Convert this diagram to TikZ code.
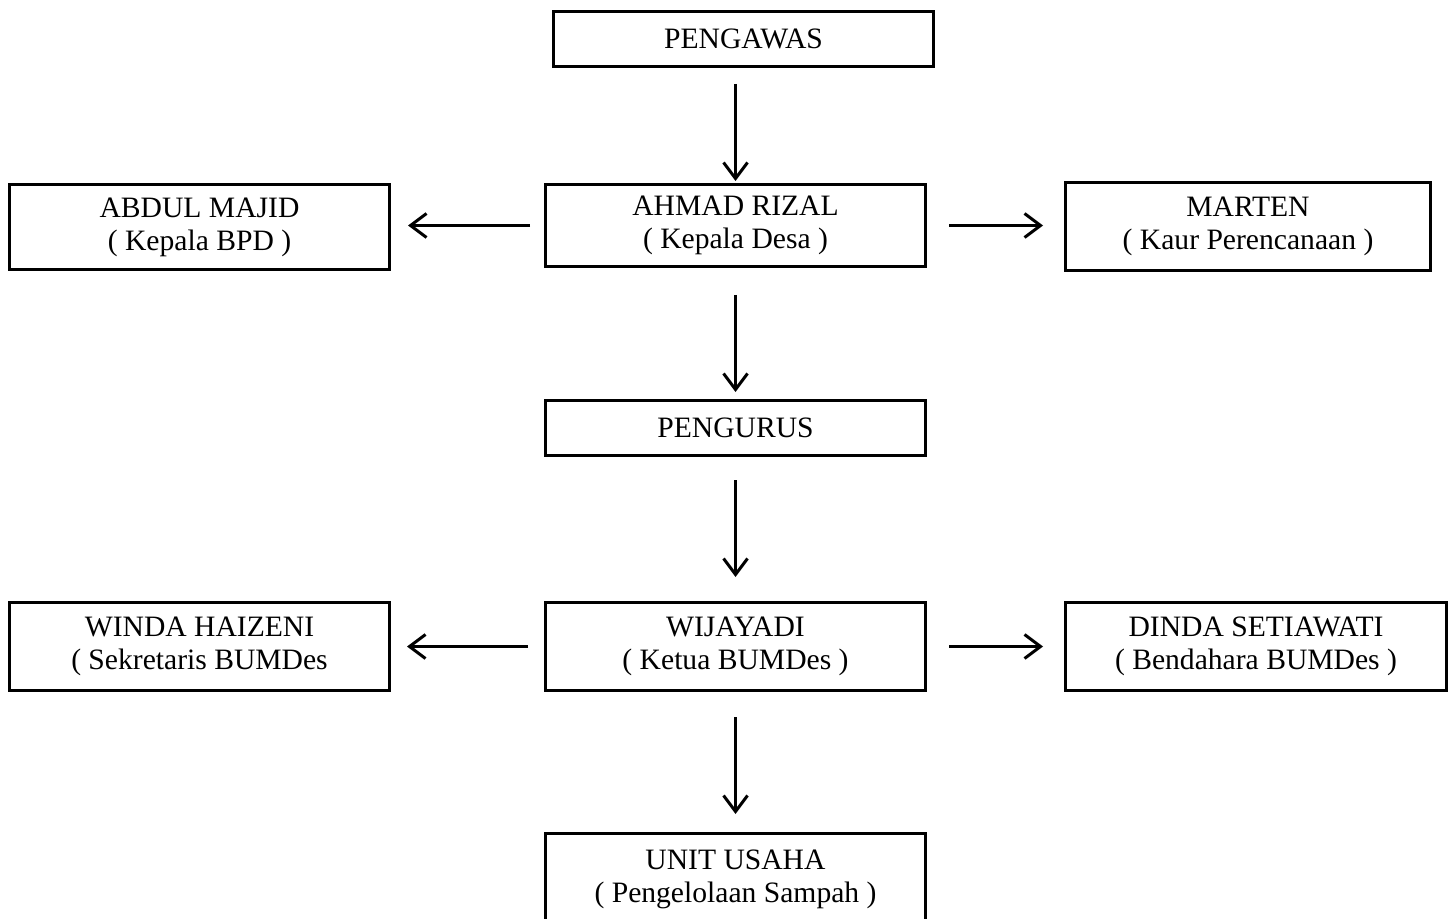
\documentclass[tikz,border=0pt]{standalone}
\usepackage{fontspec}
\setmainfont{Liberation Serif}
\usetikzlibrary{arrows.meta}
\begin{document}
\begin{tikzpicture}[x=0.5pt,y=-0.5pt,
  box/.style={draw=black, line width=1.5pt, fill=none, align=center, inner sep=0pt,
    font=\fontsize{14.8}{16.5}\selectfont, minimum width=190pt},
  arr/.style={line width=1.5pt, -{Straight Barb[length=8pt,width=12pt,line width=1.5pt]}}]
\useasboundingbox (0,0) rectangle (1454,919);
\clip (0,0) rectangle (1454,919);
\node[box, minimum height=27.5pt] (pengawas) at (743.5,39) {PENGAWAS};
\node[box, minimum height=41pt] (ahmad) at (735.5,225.5) {AHMAD RIZAL\\( Kepala Desa )};
\node[box, minimum height=42.5pt] (abdul) at (199.5,227) {ABDUL MAJID\\( Kepala BPD )};
\node[box, minimum height=44pt, minimum width=182.5pt] (marten) at (1248,226.5) {MARTEN\\( Kaur Perencanaan )};
\node[box, minimum height=27.5pt] (pengurus) at (735.5,428) {PENGURUS};
\node[box, minimum height=44pt] (wijayadi) at (735.5,646.5) {WIJAYADI\\( Ketua BUMDes )};
\node[box, minimum height=44pt] (winda) at (199.5,646.5) {WINDA HAIZENI\\( Sekretaris BUMDes};
\node[box, minimum height=44pt, minimum width=190.5pt] (dinda) at (1256,646.5) {DINDA SETIAWATI\\( Bendahara BUMDes )};
\node[box, minimum height=45.5pt] (unit) at (735.5,879) {UNIT USAHA\\( Pengelolaan Sampah )};

\draw[arr, shorten <=8pt, shorten >=1pt] (ahmad.north |- pengawas.south) -- (ahmad.north);
\draw[arr, shorten <=7pt, shorten >=8.5pt] (ahmad.west) -- (abdul.east |- ahmad.west);
\draw[arr, shorten <=11pt, shorten >=10.5pt] (ahmad.east) -- (marten.west |- ahmad.east);
\draw[arr, shorten <=13.5pt, shorten >=3.5pt] (ahmad.south) -- (pengurus.north);
\draw[arr, shorten <=11.5pt, shorten >=12pt] (pengurus.south) -- (wijayadi.north);
\draw[arr, shorten <=8pt, shorten >=8pt] (wijayadi.west) -- (winda.east);
\draw[arr, shorten <=11pt, shorten >=10.5pt] (wijayadi.east) -- (dinda.west);
\draw[arr, shorten <=12.5pt, shorten >=9pt] (wijayadi.south) -- (unit.north);
\end{tikzpicture}
\end{document}
